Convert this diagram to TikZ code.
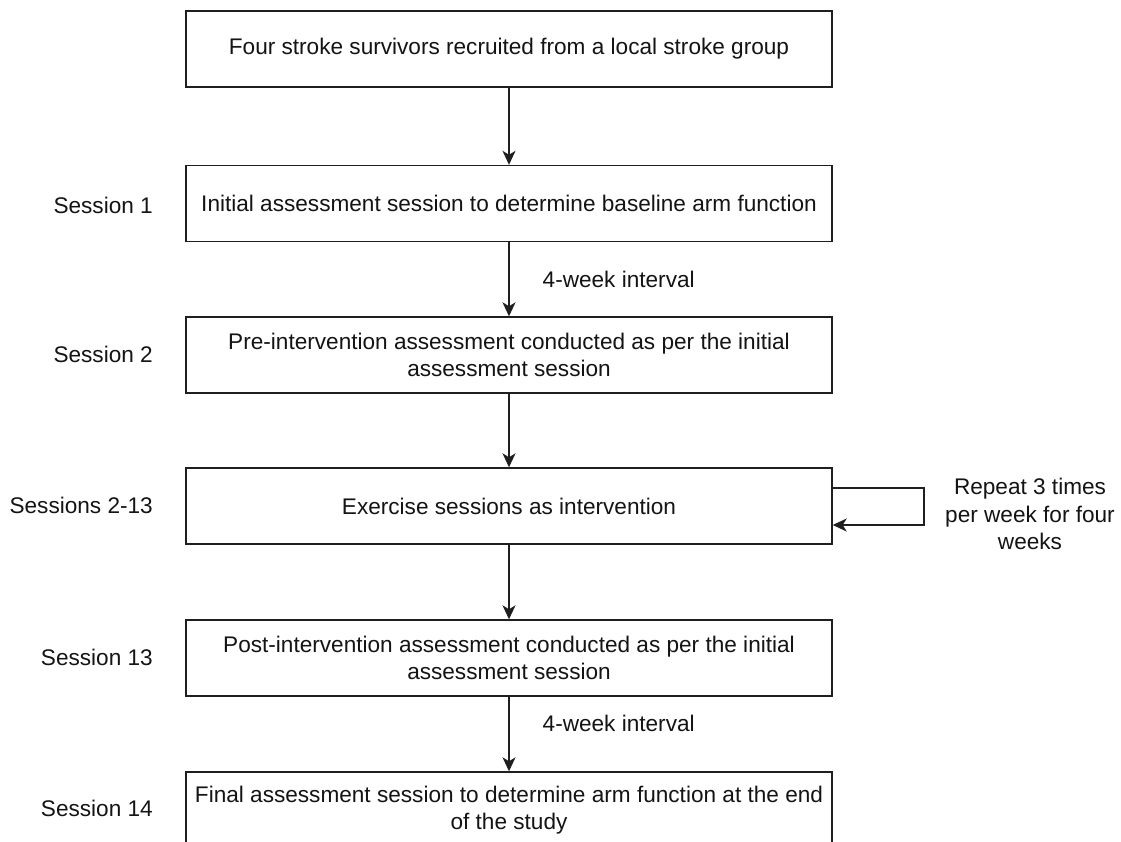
\documentclass[tikz,border=0pt]{standalone}
\usepackage{fontspec}
\setmainfont{Liberation Sans}
\usetikzlibrary{arrows.meta}
\begin{document}
\begin{tikzpicture}[x=1pt,y=-1pt,
  every node/.style={font=\fontsize{22.6}{27.5}\selectfont, text=black!92},
  stepbox/.style={draw=black!88, line width=1.4pt, minimum width=646pt, minimum height=76pt, align=center, inner sep=0pt},
  sesslabel/.style={anchor=east, inner sep=0pt},
  flow/.style={draw=black!88, line width=1.4pt, -{Stealth[length=14pt,width=13pt,inset=4pt]}}
]
\useasboundingbox (0,0) rectangle (1121,842);
\clip (0,0) rectangle (1121,842);
\fill[white] (0,0) rectangle (1121,842);

\node[stepbox] (b1) at (509,49) {Four stroke survivors recruited from a local stroke group};
\node[stepbox] (b2) at (509,203.5) {Initial assessment session to determine baseline arm function};
\node[stepbox] (b3) at (509,355) {Pre-intervention assessment conducted as per the initial\\assessment session};
\node[stepbox] (b4) at (509,506) {Exercise sessions as intervention};
\node[stepbox] (b5) at (509,658) {Post-intervention assessment conducted as per the initial\\assessment session};
\node[stepbox] (b6) at (509,810) {Final assessment session to determine arm function at the end\\of the study};

\node[sesslabel] (s1) at (153,205) {Session 1};
\node[sesslabel] (s2) at (153,354) {Session 2};
\node[sesslabel] (s3) at (153,505) {Sessions 2-13};
\node[sesslabel] (s4) at (153,657) {Session 13};
\node[sesslabel] (s5) at (153,808) {Session 14};

\draw[flow] (b1) -- (b2);
\draw[flow] (b2) -- node[anchor=west, inner sep=0pt, xshift=33pt, pos=0.5] (w1) {4-week interval} (b3);
\draw[flow] (b3) -- (b4);
\draw[flow] (b4) -- (b5);
\draw[flow] (b5) -- node[anchor=west, inner sep=0pt, xshift=33pt, pos=0.36] (w2) {4-week interval} (b6);

\coordinate (l1) at (924,488);
\coordinate (l2) at (924,525);
\draw[flow] ([yshift=18pt]b4.east) -- (l1) -- (l2) -- ([yshift=-19pt]b4.east);
\node[align=center] (rep) at (1030,514) {Repeat 3 times\\per week for four\\weeks};
\end{tikzpicture}
\end{document}
